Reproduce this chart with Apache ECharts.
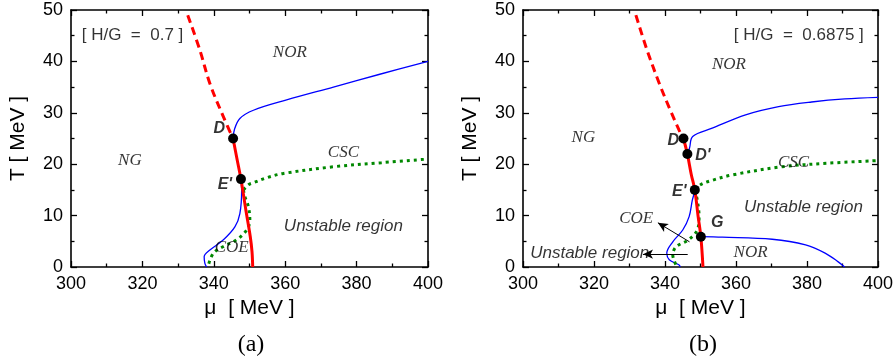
<!DOCTYPE html>
<html><head><meta charset="utf-8">
<script src="https://cdn.jsdelivr.net/npm/echarts@6/dist/echarts.min.js"></script>
<style>html,body{margin:0;padding:0;background:#fff}#c{width:896px;height:362px}</style>
</head><body><div id="c"></div>
<script>
// ---- Panel (a): H/G = 0.7 ----
const redDashA = [[332.7,49],[336.1,42.2],[338.9,35.7],[342.7,29.2],[345.4,25]];
const redSolidA = [[345.4,25],[346.5,21],[347.6,17.1],[349,11],[350.2,6],[350.7,3],[350.9,0]];
const blueUpperA = [[345.4,25],[345.8,26.8],[347.3,28.9],[351.1,30.5],[360.4,32.5],[373.5,35],[386.5,37.5],[400,40]];
const blueLowerA = [[347.6,17.1],[347.8,15],[347.3,10.4],[345.9,7.8],[342.7,5.3],[338.9,3.3],[337.3,2],[337.5,0.7],[338,0]];
const greenUpperA = [[348.3,15],[349.7,16],[351.1,16.4],[355,17.4],[359.5,18.2],[373.5,19.5],[387,20.3],[400,21]];
const greenLowerA = [[348.3,15],[348.7,13.7],[349.7,11.7],[350.1,9.1],[349.2,7.2],[346.4,5.3],[342.7,4],[339.9,2.7],[338.5,0.4]];
const pointsA = [[345.4,25],[347.6,17.1]];
const textA = [
  {t:'[ H/G  =  0.7 ]', x:303, y:45.1},
  {t:'NOR', x:361.3, y:41.7},
  {t:'NG', x:316.5, y:20.7},
  {t:'CSC', x:376.3, y:22.2},
  {t:'Unstable region', x:376.3, y:8.0},
  {t:'COE', x:345, y:3.8},
  {t:'D', x:341.5, y:27.0},
  {t:"E'", x:343.1, y:16.1}
];

// ---- Panel (b): H/G = 0.6875 ----
const redDashB = [[331.8,49],[334.8,42.5],[338.4,35.7],[341.5,30.5],[344,26.6],[345.2,25]];
const redSolidB = [[345.2,25],[346.3,22],[347.4,18],[348.4,15],[349.3,10],[350.1,5.9],[350.7,0]];
const blueUpperB = [[346.3,22.2],[346.9,23.1],[347.8,25.4],[353.3,27],[362.7,29.6],[372,31.2],[381.3,32.1],[390.7,32.7],[400,33]];
const blueLowerB = [[348.4,15],[348.2,14.3],[347.7,13],[346.8,9.8],[345,7.2],[342.2,4.9],[340.5,2.7],[341.2,1.4],[344,0.4],[344.3,0]];
const blueRightB = [[350.1,5.9],[356.2,5.8],[370.2,5.4],[379.6,4.3],[385.1,2.7],[388.8,1.0],[390.6,0]];
const greenUpperB = [[348.4,15],[350,16],[353,16.8],[358.9,17.9],[372.9,19.5],[386,20.2],[400,20.7]];
const greenLowerB = [[348.4,15],[349.1,13],[349.6,9.8],[349.1,7.2],[346.6,5.3],[343.1,3.9],[342.2,2.3],[343.1,0.4]];
const pointsB = [[345.2,25],[346.3,22],[348.4,15],[350.1,5.9]];
const arrowsB = [[[346.9,4.9],[338,8.6]],[[346.4,2.5],[333.8,2.5]]];
const textB = [
  {t:'[ H/G  =  0.6875 ]', x:359.4, y:45.1},
  {t:'NOR', x:358.0, y:39.3},
  {t:'NG', x:317.0, y:25.2},
  {t:'CSC', x:376.2, y:20.3},
  {t:'Unstable region', x:379.0, y:11.6},
  {t:'COE', x:331.9, y:9.5},
  {t:'Unstable region', x:318.8, y:2.7},
  {t:'NOR', x:364.1, y:2.8},
  {t:'D', x:342.3, y:24.6},
  {t:"D'", x:350.7, y:21.7},
  {t:"E'", x:344.0, y:14.6},
  {t:'G', x:354.7, y:8.6}
];

const xMin = 300, xMax = 400, xInterval = 20;
const yMin = 0, yMax = 50, yInterval = 10;
const panelTitles = ['(a)', '(b)'];

const SANS = '"Liberation Sans", Arial, sans-serif';
const SERIF = '"Liberation Serif", "Times New Roman", serif';

function styleFor(t) {
  if (t.startsWith('[')) return {fontFamily:SANS, fontSize:17, fontStyle:'normal', fontWeight:'normal', align:'left'};
  if (t === 'Unstable region') return {fontFamily:SANS, fontSize:17, fontStyle:'italic', fontWeight:'normal', align:'center'};
  if (['D',"D'","E'",'G'].includes(t)) return {fontFamily:SANS, fontSize:16, fontStyle:'italic', fontWeight:'bold', align:'center'};
  return {fontFamily:SERIF, fontSize:17, fontStyle:'italic', fontWeight:'normal', align:'center'};
}

const chart = echarts.init(document.getElementById('c'), null, {renderer:'canvas'});

const grids = [
  {left:71, top:10, width:357, height:257},
  {left:523, top:10, width:357, height:257}
];

const xAxes = [], yAxes = [];
grids.forEach((g, gi) => {
  const common = {
    type:'value', gridIndex:gi, splitLine:{show:false},
    axisLine:{show:true, onZero:false, lineStyle:{color:'#000', width:1.6}},
    axisTick:{show:true, inside:true, length:6, lineStyle:{color:'#000', width:1.3}},
    minorTick:{show:true, splitNumber:2, length:3.5, lineStyle:{color:'#000', width:1.3}},
  };
  xAxes.push(Object.assign({}, common, {
    position:'bottom', min:xMin, max:xMax, interval:xInterval,
    axisLabel:{show:true, color:'#000', fontFamily:SANS, fontSize:18, margin:8},
    name:'\u03bc  [ MeV ]', nameLocation:'middle', nameGap:31,
    nameTextStyle:{color:'#000', fontFamily:SANS, fontSize:21}
  }));
  xAxes.push(Object.assign({}, common, {
    position:'top', min:xMin, max:xMax, interval:xInterval, axisLabel:{show:false}
  }));
  yAxes.push(Object.assign({}, common, {
    position:'left', min:yMin, max:yMax, interval:yInterval,
    axisLabel:{show:true, color:'#000', fontFamily:SANS, fontSize:18, margin:8},
    name:'T [ MeV ]', nameLocation:'middle', nameGap:42,
    nameTextStyle:{color:'#000', fontFamily:SANS, fontSize:21}
  }));
  yAxes.push(Object.assign({}, common, {
    position:'right', min:yMin, max:yMax, interval:yInterval, axisLabel:{show:false}
  }));
});

function line(data, gi, color, width, type, z) {
  return {type:'line', xAxisIndex:gi*2, yAxisIndex:gi*2, data:data, smooth:0.35,
    symbol:'none', silent:true, animation:false, z:z,
    lineStyle:{color:color, width:width, type:type, cap:'butt'}};
}
function pts(data, gi) {
  return {type:'scatter', xAxisIndex:gi*2, yAxisIndex:gi*2, data:data, symbolSize:10,
    itemStyle:{color:'#000', opacity:1}, z:10, animation:false};
}
function texts(arr, gi) {
  return {type:'scatter', xAxisIndex:gi*2, yAxisIndex:gi*2, symbolSize:0, z:11, animation:false,
    data: arr.map(o => {
      const s = styleFor(o.t);
      return {value:[o.x, o.y], name:o.t, label:{show:true, position:'inside', formatter:o.t,
        color:'#000', fontFamily:s.fontFamily, fontSize:s.fontSize, fontStyle:s.fontStyle,
        fontWeight:s.fontWeight, align:s.align, verticalAlign:'middle'}};
    })};
}

const series = [
  line(blueUpperA, 0, '#0000ff', 1.3, 'solid', 2),
  line(blueLowerA, 0, '#0000ff', 1.3, 'solid', 2),
  line(greenUpperA, 0, '#008800', 3, [3,4], 3),
  line(greenLowerA, 0, '#008800', 3, [3,4], 3),
  line(redDashA, 0, '#ff0000', 3, [8,5], 4),
  line(redSolidA, 0, '#ff0000', 3, 'solid', 4),
  pts(pointsA, 0),
  texts(textA, 0),
  line(blueUpperB, 1, '#0000ff', 1.3, 'solid', 2),
  line(blueLowerB, 1, '#0000ff', 1.3, 'solid', 2),
  line(blueRightB, 1, '#0000ff', 1.3, 'solid', 2),
  line(greenUpperB, 1, '#008800', 3, [3,4], 3),
  line(greenLowerB, 1, '#008800', 3, [3,4], 3),
  line(redDashB, 1, '#ff0000', 3, [8,5], 4),
  line(redSolidB, 1, '#ff0000', 3, 'solid', 4),
  {type:'line', xAxisIndex:2, yAxisIndex:2, data:[], animation:false, z:5,
    markLine:{silent:true, animation:false, symbol:['none','arrow'], symbolSize:[7,10],
      label:{show:false}, lineStyle:{color:'#000', width:1, type:'solid'},
      data: arrowsB.map(a => [{coord:a[0]},{coord:a[1]}])}},
  pts(pointsB, 1),
  texts(textB, 1)
];

chart.setOption({
  animation:false,
  grid:grids,
  xAxis:xAxes,
  yAxis:yAxes,
  series:series,
  graphic:[
    {type:'text', x:251, y:345, style:{text:panelTitles[0], font:'24px ' + SERIF, fill:'#000', textAlign:'center', textVerticalAlign:'middle'}},
    {type:'text', x:703, y:345, style:{text:panelTitles[1], font:'24px ' + SERIF, fill:'#000', textAlign:'center', textVerticalAlign:'middle'}}
  ]
});
</script>
</body></html>
